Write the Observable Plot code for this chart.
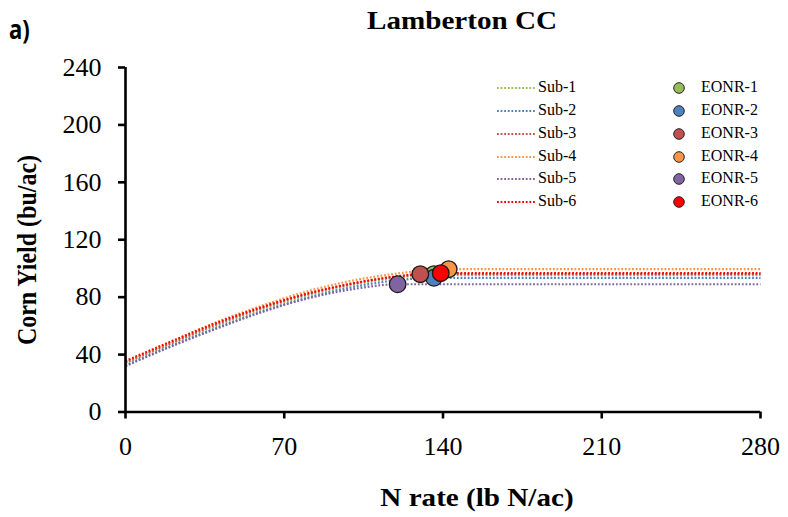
<!DOCTYPE html>
<html><head><meta charset="utf-8">
<script src="https://cdn.jsdelivr.net/npm/d3@7"></script>
<script src="https://cdn.jsdelivr.net/npm/@observablehq/plot@0.6"></script>
<style>
body{margin:0;background:#fff;}
#wrap{position:relative;width:788px;height:517px;font-family:"Liberation Serif","Times New Roman",serif;color:#000;}
.abs{position:absolute;white-space:nowrap;}
#title{left:462px;top:6px;transform:translateX(-50%) scaleX(1.12);font-weight:bold;font-size:26px;}
#tag{left:9px;top:11px;font-family:"Noto Sans",sans-serif;font-weight:bold;font-size:26px;transform:scaleX(0.85);transform-origin:left;}
#xlab{left:477px;top:483px;transform:translateX(-50%) scaleX(1.12);font-weight:bold;font-size:26px;}
#ylab{left:28px;top:250px;transform:translate(-50%,-50%) rotate(-90deg) scaleY(1.1);font-weight:bold;font-size:24px;}
.leg{font-size:16px;}
</style></head><body><div id="wrap">
<div id="tag" class="abs">a)</div>
<div id="title" class="abs">Lamberton CC</div>
<div id="xlab" class="abs">N rate (lb N/ac)</div>
<div id="ylab" class="abs">Corn Yield (bu/ac)</div>
</div>
<script>
// Series names and colours
const subNames = ["Sub-1","Sub-2","Sub-3","Sub-4","Sub-5","Sub-6"];
const eonrNames = ["EONR-1","EONR-2","EONR-3","EONR-4","EONR-5","EONR-6"];
const colors = ["#9BBB59","#4F81BD","#C0504D","#F79646","#8064A2","#FF0000"];

// Response curves (N rate, yield)
const sub1X = [0,20,40,60,80,100,120,136,280];
const sub1Y = [34,47.5,60,71.5,81,88.5,93.5,95.5,95.5];
const sub2X = [0,20,40,60,80,100,120,136,280];
const sub2Y = [32.5,46,58.5,70,79.5,87,91.8,93.5,93.5];
const sub3X = [0,20,40,60,80,100,120,130,280];
const sub3Y = [34.5,48,61,72.5,82,89.5,94.5,96,96];
const sub4X = [0,20,40,60,80,100,120,142.5,280];
const sub4Y = [35,49,62.5,74,84,91.5,96.5,99.5,99.5];
const sub5X = [0,20,40,60,80,100,120,280];
const sub5Y = [32,45.5,58,69.5,79,85.5,89,89];
const sub6X = [0,20,40,60,80,100,120,139,280];
const sub6Y = [35.5,49,62,73,82.5,89.5,94.5,96.7,96.7];

// Economic optimum N rates (EONR) and yields
const eonrX = [136,136,130,142.5,120,139];
const eonrY = [96,93.5,96,99.5,89,96.7];

// Axis ticks
const xTicks = [0,70,140,210,280];
const yTicks = [0,40,80,120,160,200,240];

const subX = [sub1X,sub2X,sub3X,sub4X,sub5X,sub6X];
const subY = [sub1Y,sub2Y,sub3Y,sub4Y,sub5Y,sub6Y];
const lineData = subNames.flatMap((s,i)=>subX[i].map((x,j)=>({series:s,color:colors[i],x,y:subY[i][j]})));
const dotData = eonrNames.map((s,i)=>({series:s,color:colors[i],x:eonrX[i],y:eonrY[i]}));

const chart = Plot.plot({
  width:788, height:517,
  marginLeft:125, marginRight:28, marginTop:67, marginBottom:105.5,
  style:{fontFamily:"Liberation Serif, Times New Roman, serif", background:"white", overflow:"visible"},
  x:{domain:[0,280]},
  y:{domain:[0,240]},
  color:{type:"identity"},
  marks:[
    Plot.line(lineData,{x:"x",y:"y",z:"series",stroke:"color",strokeWidth:2.2,strokeDasharray:"1.8,1.8",strokeLinecap:"butt",curve:"monotone-x"}),
    Plot.ruleY([0],{stroke:"black",strokeWidth:2.6}),
    Plot.ruleX([0],{stroke:"black",strokeWidth:2.6}),
    Plot.axisX({ticks:xTicks,tickSize:7,tickPadding:18,fontSize:26,stroke:"black",strokeWidth:2.6,fill:"black",label:null,tickFormat:d=>String(d)}),
    Plot.axisY({ticks:yTicks,tickSize:7,tickPadding:17,fontSize:26,stroke:"black",strokeWidth:2.6,fill:"black",label:null,tickFormat:d=>String(d)}),
    Plot.dot(dotData,{x:"x",y:"y",fill:"color",r:8.3,stroke:"#1a1a1a",strokeWidth:1.3})
  ]
});
const wrap = document.getElementById("wrap");
chart.style.position="absolute"; chart.style.left="0"; chart.style.top="0";
wrap.insertBefore(chart, wrap.firstChild);

// Legend overlay
const legTop = [88,111,133.5,156.5,179,201.5];
subNames.forEach((s,i)=>{
  const d=document.createElement("div");
  d.className="abs leg";
  d.style.left="496px"; d.style.top=(legTop[i]-10)+"px";
  d.innerHTML=`<svg width="40" height="10" style="vertical-align:middle;margin-right:2px"><line x1="1" y1="5" x2="39" y2="5" stroke="${colors[i]}" stroke-width="2" stroke-dasharray="1.8,1.8"/></svg>${s}`;
  wrap.appendChild(d);
  const e=document.createElement("div");
  e.className="abs leg";
  e.style.left="671px"; e.style.top=(legTop[i]-10)+"px";
  e.innerHTML=`<svg width="16" height="16" style="vertical-align:middle;margin-right:14px"><circle cx="8" cy="8" r="5.3" fill="${colors[i]}" stroke="#222" stroke-width="1"/></svg>${eonrNames[i]}`;
  wrap.appendChild(e);
});
</script>
</body></html>
